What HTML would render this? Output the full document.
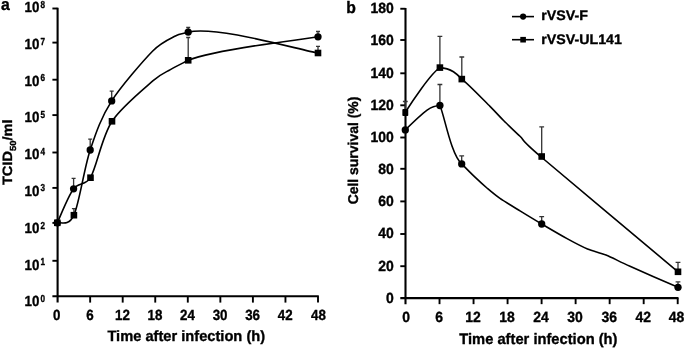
<!DOCTYPE html>
<html lang="en">
<head>
<meta charset="utf-8">
<title>Figure</title>
<style>
html,body{margin:0;padding:0;background:#fff;}
body{width:685px;height:348px;overflow:hidden;}
svg{display:block;will-change:transform;}
text{font-family:"Liberation Sans", Arial, Helvetica, sans-serif;font-weight:bold;fill:#000;stroke:#000;stroke-width:0.35px;stroke-linejoin:round;text-rendering:geometricPrecision;}
</style>
</head>
<body>
<svg width="685" height="348" viewBox="0 0 685 348">
<rect x="0" y="0" width="685" height="348" fill="#fff"/>
<path d="M57.6 7.70 V302.60" stroke="#000" stroke-width="2.1" fill="none"/>
<path d="M52.4 296.3 H318.8" stroke="#000" stroke-width="2.1" fill="none"/>
<path d="M52.4 260.80 H57.6" stroke="#000" stroke-width="1.9"/>
<path d="M52.4 222.90 H57.6" stroke="#000" stroke-width="1.9"/>
<path d="M52.4 187.90 H57.6" stroke="#000" stroke-width="1.9"/>
<path d="M52.4 152.50 H57.6" stroke="#000" stroke-width="1.9"/>
<path d="M52.4 115.10 H57.6" stroke="#000" stroke-width="1.9"/>
<path d="M52.4 79.70 H57.6" stroke="#000" stroke-width="1.9"/>
<path d="M52.4 42.60 H57.6" stroke="#000" stroke-width="1.9"/>
<path d="M52.4 8.50 H57.6" stroke="#000" stroke-width="1.9"/>
<path d="M90.15 296.3 V302.60" stroke="#000" stroke-width="1.9"/>
<path d="M122.70 296.3 V302.60" stroke="#000" stroke-width="1.9"/>
<path d="M155.25 296.3 V302.60" stroke="#000" stroke-width="1.9"/>
<path d="M187.80 296.3 V302.60" stroke="#000" stroke-width="1.9"/>
<path d="M220.35 296.3 V302.60" stroke="#000" stroke-width="1.9"/>
<path d="M252.90 296.3 V302.60" stroke="#000" stroke-width="1.9"/>
<path d="M285.45 296.3 V302.60" stroke="#000" stroke-width="1.9"/>
<path d="M318.00 296.3 V302.60" stroke="#000" stroke-width="1.9"/>
<text transform="translate(24.60,306.30) scale(0.908,1)" font-size="14.7" text-anchor="start">10</text>
<text transform="translate(40.60,301.90) scale(0.8,1)" font-size="10.2" text-anchor="start">0</text>
<text transform="translate(24.60,269.50) scale(0.908,1)" font-size="14.7" text-anchor="start">10</text>
<text transform="translate(40.60,265.20) scale(0.8,1)" font-size="10.2" text-anchor="start">1</text>
<text transform="translate(24.60,232.70) scale(0.908,1)" font-size="14.7" text-anchor="start">10</text>
<text transform="translate(40.60,228.60) scale(0.8,1)" font-size="10.2" text-anchor="start">2</text>
<text transform="translate(24.60,195.90) scale(0.908,1)" font-size="14.7" text-anchor="start">10</text>
<text transform="translate(40.60,191.00) scale(0.8,1)" font-size="10.2" text-anchor="start">3</text>
<text transform="translate(24.60,159.10) scale(0.908,1)" font-size="14.7" text-anchor="start">10</text>
<text transform="translate(40.60,154.80) scale(0.8,1)" font-size="10.2" text-anchor="start">4</text>
<text transform="translate(24.60,122.30) scale(0.908,1)" font-size="14.7" text-anchor="start">10</text>
<text transform="translate(40.60,118.20) scale(0.8,1)" font-size="10.2" text-anchor="start">5</text>
<text transform="translate(24.60,85.50) scale(0.908,1)" font-size="14.7" text-anchor="start">10</text>
<text transform="translate(40.60,81.40) scale(0.8,1)" font-size="10.2" text-anchor="start">6</text>
<text transform="translate(24.60,48.70) scale(0.908,1)" font-size="14.7" text-anchor="start">10</text>
<text transform="translate(40.60,44.50) scale(0.8,1)" font-size="10.2" text-anchor="start">7</text>
<text transform="translate(24.60,11.90) scale(0.908,1)" font-size="14.7" text-anchor="start">10</text>
<text transform="translate(40.60,7.60) scale(0.8,1)" font-size="10.2" text-anchor="start">8</text>
<text transform="translate(56.70,320.40) scale(0.908,1)" font-size="14.7" text-anchor="middle">0</text>
<text transform="translate(89.85,320.40) scale(0.908,1)" font-size="14.7" text-anchor="middle">6</text>
<text transform="translate(122.40,320.40) scale(0.908,1)" font-size="14.7" text-anchor="middle">12</text>
<text transform="translate(154.95,320.40) scale(0.908,1)" font-size="14.7" text-anchor="middle">18</text>
<text transform="translate(187.50,320.40) scale(0.908,1)" font-size="14.7" text-anchor="middle">24</text>
<text transform="translate(220.05,320.40) scale(0.908,1)" font-size="14.7" text-anchor="middle">30</text>
<text transform="translate(252.60,320.40) scale(0.908,1)" font-size="14.7" text-anchor="middle">36</text>
<text transform="translate(285.15,320.40) scale(0.908,1)" font-size="14.7" text-anchor="middle">42</text>
<text transform="translate(318.50,320.40) scale(0.908,1)" font-size="14.7" text-anchor="middle">48</text>
<text transform="translate(107.40,341.20) scale(0.977,1)" font-size="15.0" text-anchor="start">Time after infection (h)</text>
<text transform="translate(12.2,152.2) rotate(-90) scale(1.08,1)" font-size="13.5" text-anchor="middle">TCID<tspan dy="3.3" font-size="8.8">50</tspan><tspan dy="-3.3">/ml</tspan></text>
<text transform="translate(1.00,10.20) scale(0.95,1)" font-size="16.6" text-anchor="start">a</text>
<path d="M73.60 188.80 V178.30 M71.60 178.30 H75.60" stroke="#333" stroke-width="1.3" fill="none"/>
<path d="M90.20 150.00 V139.20 M88.20 139.20 H92.20" stroke="#333" stroke-width="1.3" fill="none"/>
<path d="M111.70 100.90 V91.10 M109.70 91.10 H113.70" stroke="#333" stroke-width="1.3" fill="none"/>
<path d="M188.20 32.10 V27.50 M186.20 27.50 H190.20" stroke="#333" stroke-width="1.3" fill="none"/>
<path d="M318.00 36.80 V31.50 M316.00 31.50 H320.00" stroke="#333" stroke-width="1.3" fill="none"/>
<path d="M73.90 215.20 V208.60 M71.90 208.60 H75.90" stroke="#333" stroke-width="1.3" fill="none"/>
<path d="M188.20 60.30 V37.50 M186.20 37.50 H190.20" stroke="#333" stroke-width="1.3" fill="none"/>
<path d="M318.00 53.00 V46.30 M316.00 46.30 H320.00" stroke="#333" stroke-width="1.3" fill="none"/>
<path d="M57.30 222.80 C60.02 217.13 68.07 196.32 73.60 188.80 C77.92 182.94 86.28 185.12 90.50 177.70 C96.90 166.45 101.62 137.43 112.00 121.30 C120.72 107.75 144.62 88.14 152.80 80.90 C160.98 73.66 165.44 72.48 170.40 69.60 C175.36 66.72 183.20 62.90 188.20 60.30 C217.00 48.50 299.83 40.09 318.00 36.80" stroke="#000" stroke-width="1.6" fill="none" stroke-linejoin="round"/>
<path d="M57.30 222.80 C60.07 221.53 68.42 227.33 73.90 215.20 C79.38 203.07 83.90 169.05 90.20 150.00 C96.50 130.95 101.32 117.37 111.70 100.90 C120.42 87.07 143.58 60.29 152.50 51.20 C161.42 42.11 170.40 38.67 175.40 36.00 C180.40 33.33 183.20 33.90 188.20 32.10 C217.10 25.40 299.83 50.07 318.00 53.00" stroke="#000" stroke-width="1.6" fill="none" stroke-linejoin="round"/>
<circle cx="57.3" cy="222.8" r="3.65"/>
<circle cx="73.6" cy="188.8" r="3.65"/>
<circle cx="90.2" cy="150.0" r="3.65"/>
<circle cx="111.7" cy="100.9" r="3.65"/>
<circle cx="188.2" cy="32.1" r="3.65"/>
<circle cx="318.0" cy="36.8" r="3.65"/>
<rect x="54.00" y="219.50" width="6.6" height="6.6"/>
<rect x="70.60" y="211.90" width="6.6" height="6.6"/>
<rect x="87.20" y="174.40" width="6.6" height="6.6"/>
<rect x="108.70" y="118.00" width="6.6" height="6.6"/>
<rect x="184.90" y="57.00" width="6.6" height="6.6"/>
<rect x="314.70" y="49.70" width="6.6" height="6.6"/>
<path d="M405.5 7.95 V304.15" stroke="#000" stroke-width="2.1" fill="none"/>
<path d="M400.3 298.15 H678.5" stroke="#000" stroke-width="2.1" fill="none"/>
<path d="M400.3 266.20 H405.5" stroke="#000" stroke-width="1.9"/>
<path d="M400.3 234.00 H405.5" stroke="#000" stroke-width="1.9"/>
<path d="M400.3 201.40 H405.5" stroke="#000" stroke-width="1.9"/>
<path d="M400.3 168.80 H405.5" stroke="#000" stroke-width="1.9"/>
<path d="M400.3 137.50 H405.5" stroke="#000" stroke-width="1.9"/>
<path d="M400.3 105.30 H405.5" stroke="#000" stroke-width="1.9"/>
<path d="M400.3 73.30 H405.5" stroke="#000" stroke-width="1.9"/>
<path d="M400.3 40.00 H405.5" stroke="#000" stroke-width="1.9"/>
<path d="M400.3 8.75 H405.5" stroke="#000" stroke-width="1.9"/>
<path d="M439.52 298.15 V304.15" stroke="#000" stroke-width="1.9"/>
<path d="M473.55 298.15 V304.15" stroke="#000" stroke-width="1.9"/>
<path d="M507.57 298.15 V304.15" stroke="#000" stroke-width="1.9"/>
<path d="M541.60 298.15 V304.15" stroke="#000" stroke-width="1.9"/>
<path d="M575.62 298.15 V304.15" stroke="#000" stroke-width="1.9"/>
<path d="M609.65 298.15 V304.15" stroke="#000" stroke-width="1.9"/>
<path d="M643.68 298.15 V304.15" stroke="#000" stroke-width="1.9"/>
<path d="M677.70 298.15 V304.15" stroke="#000" stroke-width="1.9"/>
<text transform="translate(393.70,302.80) scale(0.946,1)" font-size="14.75" text-anchor="end">0</text>
<text transform="translate(393.70,270.62) scale(0.946,1)" font-size="14.75" text-anchor="end">20</text>
<text transform="translate(393.70,238.44) scale(0.946,1)" font-size="14.75" text-anchor="end">40</text>
<text transform="translate(393.70,206.26) scale(0.946,1)" font-size="14.75" text-anchor="end">60</text>
<text transform="translate(393.70,174.08) scale(0.946,1)" font-size="14.75" text-anchor="end">80</text>
<text transform="translate(393.70,141.90) scale(0.946,1)" font-size="14.75" text-anchor="end">100</text>
<text transform="translate(393.70,109.72) scale(0.946,1)" font-size="14.75" text-anchor="end">120</text>
<text transform="translate(393.70,77.54) scale(0.946,1)" font-size="14.75" text-anchor="end">140</text>
<text transform="translate(393.70,45.36) scale(0.946,1)" font-size="14.75" text-anchor="end">160</text>
<text transform="translate(393.70,13.18) scale(0.946,1)" font-size="14.75" text-anchor="end">180</text>
<text transform="translate(406.10,322.40) scale(0.946,1)" font-size="14.75" text-anchor="middle">0</text>
<text transform="translate(439.02,322.40) scale(0.946,1)" font-size="14.75" text-anchor="middle">6</text>
<text transform="translate(473.05,322.40) scale(0.946,1)" font-size="14.75" text-anchor="middle">12</text>
<text transform="translate(507.07,322.40) scale(0.946,1)" font-size="14.75" text-anchor="middle">18</text>
<text transform="translate(541.10,322.40) scale(0.946,1)" font-size="14.75" text-anchor="middle">24</text>
<text transform="translate(575.12,322.40) scale(0.946,1)" font-size="14.75" text-anchor="middle">30</text>
<text transform="translate(609.15,322.40) scale(0.946,1)" font-size="14.75" text-anchor="middle">36</text>
<text transform="translate(643.18,322.40) scale(0.946,1)" font-size="14.75" text-anchor="middle">42</text>
<text transform="translate(676.60,322.40) scale(0.946,1)" font-size="14.75" text-anchor="middle">48</text>
<text transform="translate(459.30,343.80) scale(0.968,1)" font-size="15.2" text-anchor="start">Time after infection (h)</text>
<text transform="translate(358.3,150.5) rotate(-90) scale(0.982,1)" font-size="14.2" text-anchor="middle">Cell survival (%)</text>
<text transform="translate(346.20,12.60) scale(0.95,1)" font-size="16.6" text-anchor="start">b</text>
<path d="M439.90 105.50 V84.50 M437.50 84.50 H442.30" stroke="#333" stroke-width="1.3" fill="none"/>
<path d="M461.70 163.90 V155.90 M459.30 155.90 H464.10" stroke="#333" stroke-width="1.3" fill="none"/>
<path d="M541.70 224.00 V216.70 M539.30 216.70 H544.10" stroke="#333" stroke-width="1.3" fill="none"/>
<path d="M678.00 287.30 V281.90 M675.60 281.90 H680.40" stroke="#333" stroke-width="1.3" fill="none"/>
<path d="M405.30 112.30 V101.50 M402.90 101.50 H407.70" stroke="#333" stroke-width="1.3" fill="none"/>
<path d="M439.90 67.60 V36.40 M437.50 36.40 H442.30" stroke="#333" stroke-width="1.3" fill="none"/>
<path d="M461.80 79.10 V57.00 M459.40 57.00 H464.20" stroke="#333" stroke-width="1.3" fill="none"/>
<path d="M541.70 156.50 V126.80 M539.30 126.80 H544.10" stroke="#333" stroke-width="1.3" fill="none"/>
<path d="M678.00 271.80 V262.40 M675.60 262.40 H680.40" stroke="#333" stroke-width="1.3" fill="none"/>
<path d="M405.30 129.90 C426.30 109.40 430.90 105.80 439.90 105.50 C444.20 114.50 450.90 154.70 461.70 163.90 C465.90 168.20 471.39 173.76 475.00 177.20 C478.61 180.64 484.00 185.53 487.50 188.50 C491.00 191.47 495.45 195.26 500.00 198.40 C504.55 201.54 514.16 207.32 520.00 210.90 C525.84 214.48 535.05 220.08 541.70 224.00 C548.35 227.92 561.09 235.40 567.50 238.90 C573.91 242.40 582.11 246.75 587.50 249.00 C592.89 251.25 600.05 252.58 606.00 255.00 C611.95 257.42 619.92 261.78 630.00 266.30 C640.08 270.82 671.28 284.36 678.00 287.30" stroke="#000" stroke-width="1.6" fill="none" stroke-linejoin="round"/>
<path d="M405.30 112.30 C411.30 102.80 430.90 73.10 439.90 67.60 C451.90 68.20 457.80 74.90 461.80 79.10 C468.81 84.53 484.12 100.56 490.00 106.40 C495.88 112.24 499.60 116.61 503.80 120.80 C508.00 124.99 514.76 131.23 520.00 136.30 C525.24 141.37 519.08 138.03 541.20 157.00 C563.32 175.97 658.85 255.73 678.00 271.80" stroke="#000" stroke-width="1.6" fill="none" stroke-linejoin="round"/>
<circle cx="405.3" cy="129.9" r="3.65"/>
<circle cx="439.9" cy="105.5" r="3.65"/>
<circle cx="461.7" cy="163.9" r="3.65"/>
<circle cx="541.7" cy="224.0" r="3.65"/>
<circle cx="678.0" cy="287.3" r="3.65"/>
<rect x="402.35" y="109.10" width="5.9" height="7.0" rx="0.8"/>
<rect x="436.60" y="64.30" width="6.6" height="6.6"/>
<rect x="458.50" y="75.80" width="6.6" height="6.6"/>
<rect x="538.40" y="153.20" width="6.6" height="6.6"/>
<rect x="674.70" y="268.50" width="6.6" height="6.6"/>
<path d="M512 16.6 H534" stroke="#000" stroke-width="1.6"/>
<circle cx="523.1" cy="16.6" r="3.1"/>
<text transform="translate(541.30,20.40) scale(1.03,1)" font-size="13.8" text-anchor="start">rVSV-F</text>
<path d="M512 39.7 H534" stroke="#000" stroke-width="1.6"/>
<rect x="520.3" y="36.9" width="5.6" height="5.6"/>
<text transform="translate(541.30,44.40) scale(1.03,1)" font-size="13.8" text-anchor="start">rVSV-UL141</text>
</svg>
</body>
</html>
